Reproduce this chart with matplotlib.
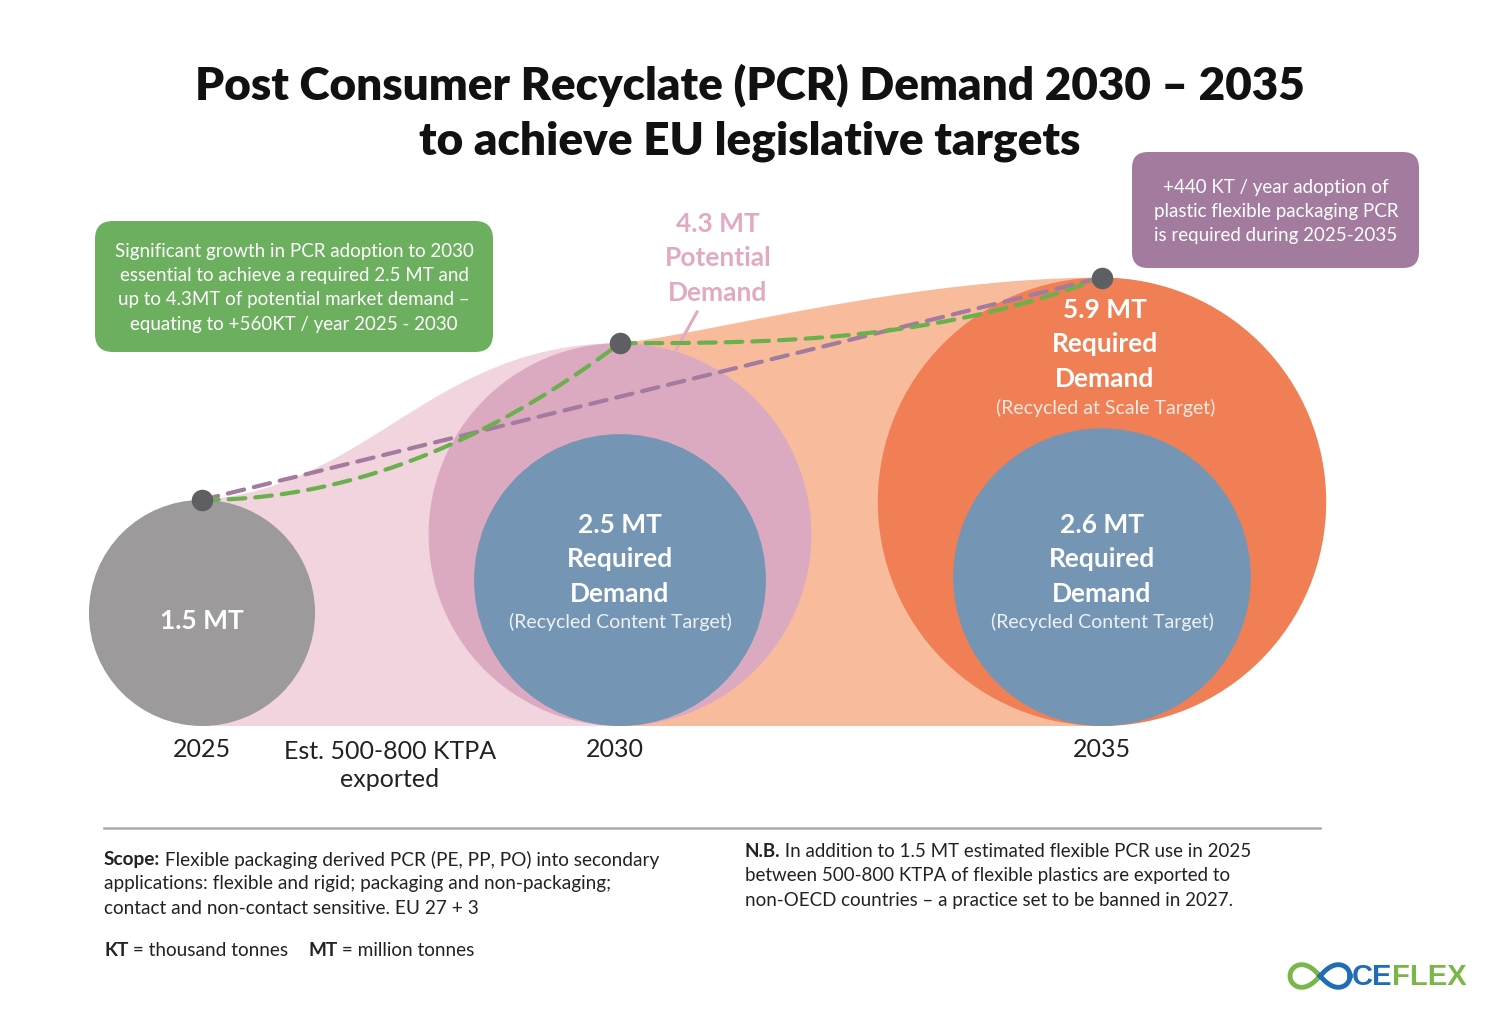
import matplotlib
matplotlib.use('Agg')
import matplotlib.pyplot as plt
from matplotlib.patches import Circle, Polygon, FancyBboxPatch
import numpy as np

plt.rcParams['font.family'] = ['Lato', 'DejaVu Sans']

# ---- data ----
years = ['2025', '2030', '2035']
outer_mt = [1.5, 4.3, 5.9]          # 2025 actual, 2030 potential, 2035 required (at scale)
inner_mt = [None, 2.5, 2.6]         # required demand (recycled content target)
outer_kind = ['', 'Potential\nDemand', 'Required\nDemand']
outer_note = ['', '', '(Recycled at Scale Target)']
inner_note = '(Recycled Content Target)'

# ---- layout ----
W, H = 1500, 1020
center_x = [202, 620, 1102]
base_y = 727
px_per_root_mt = 92.3

c_grey = '#9c9a9a'
c_pink_light = '#f1d4de'
c_pink = '#dcaac0'
c_peach = '#f8bc9d'
c_orange = '#f07f55'
c_blue = '#7495b4'
c_dot = '#5e5f63'
c_green = '#6caf5f'
c_purple = '#a37b9f'
c_text = '#222222'

fig = plt.figure(figsize=(W / 100, H / 100), dpi=100)
ax = fig.add_axes([0, 0, 1, 1])
ax.set_xlim(0, W)
ax.set_ylim(H, 0)
ax.axis('off')


def radius(v):
    return px_per_root_mt * np.sqrt(v)


def bezier(p0, p1, p2, p3, n=100):
    t = np.linspace(0, 1, n)[:, None]
    p0, p1, p2, p3 = map(np.array, (p0, p1, p2, p3))
    return ((1 - t) ** 3) * p0 + 3 * ((1 - t) ** 2) * t * p1 + 3 * (1 - t) * t ** 2 * p2 + t ** 3 * p3


def ease_in(a, b, power, n=100):
    s = np.linspace(0, 1, n)
    return np.column_stack([a[0] + (b[0] - a[0]) * s, a[1] + (b[1] - a[1]) * s ** power])


tops = [(cx, base_y - 2 * radius(v)) for cx, v in zip(center_x, outer_mt)]

# background bands between the circles
(x0, y0), (x1, y1), (x2, y2) = tops
dx = x1 - x0
band1 = bezier((x0, y0), (x0 + 0.4 * dx, y0 - 12), (x1 - 0.45 * dx, y1), (x1, y1))
band1 = np.vstack([band1, [(x1, base_y), (x0, base_y)]])
ax.add_patch(Polygon(band1, closed=True, color=c_pink_light, lw=0, zorder=1))

dx = x2 - x1
band2 = bezier((x1, y1), (x1 + 0.17 * dx, y1 - 8), (x2 - 0.4 * dx, y2), (x2, y2))
band2 = np.vstack([band2, [(x2, base_y), (x1, base_y)]])
ax.add_patch(Polygon(band2, closed=True, color=c_peach, lw=0, zorder=1))

# circles
outer_colors = [c_grey, c_pink, c_orange]
for cx, v, col in zip(center_x, outer_mt, outer_colors):
    r = radius(v)
    ax.add_patch(Circle((cx, base_y - r), r, color=col, lw=0, zorder=2))
for cx, v in zip(center_x, inner_mt):
    if v is None:
        continue
    r = radius(v)
    ax.add_patch(Circle((cx, base_y - r), r, color=c_blue, lw=0, zorder=3))

# trajectories
dash = (0, (4, 2.4))
ax.plot([x0, x2], [y0, y2], color=c_purple, lw=3, ls=dash, dash_capstyle='round', zorder=5)
path = np.vstack([ease_in(tops[0], tops[1], 2.0), ease_in(tops[1], tops[2], 2.8)[1:]])
ax.plot(path[:, 0], path[:, 1], color='#6ab04c', lw=3, ls=dash, dash_capstyle='round', zorder=5)

ax.scatter([t[0] for t in tops], [t[1] for t in tops], s=240, color=c_dot, zorder=6, lw=0)


def lines(x, y, txts, pitch, **kw):
    for i, s in enumerate(txts):
        ax.text(x, y + i * pitch, s, ha='center', va='center', zorder=7, **kw)


# circle labels
lines(center_x[0], 621, [f'{outer_mt[0]} MT'], 34, color='white', fontsize=19, fontweight='bold')

lines(718, 224, [f'{outer_mt[1]} MT'] + outer_kind[1].split('\n'), 34.5,
      color='#e2a9c2', fontsize=19, fontweight='bold')
ax.plot([697, 676], [313, 351], color='#e2a9c2', lw=2.2, zorder=4)

lines(center_x[2] + 3, 310, [f'{outer_mt[2]} MT'] + outer_kind[2].split('\n'), 34.5,
      color='white', fontsize=19, fontweight='bold')
lines(center_x[2] + 4, 408, [outer_note[2]], 24, color='#fbe9e1', fontsize=14)

for cx, v in zip(center_x[1:], inner_mt[1:]):
    lines(cx, 525, [f'{v} MT', 'Required', 'Demand'], 34.3,
          color='white', fontsize=19, fontweight='bold')
    lines(cx, 622, [inner_note], 24, color='#eef2f6', fontsize=14)

# year labels
for cx, yr in zip(center_x, years):
    ax.text(cx - (5 if yr == '2030' else 0), 750, yr, ha='center', va='center',
            fontsize=18, color=c_text)
lines(390, 752, ['Est. 500-800 KTPA', 'exported'], 28, fontsize=18, color=c_text)

# title
lines(750, 85, ['Post Consumer Recyclate (PCR) Demand 2030 \u2013 2035',
                'to achieve EU legislative targets'], 56,
      fontsize=33, fontweight='heavy', color='#111111')

# call-out boxes
ax.add_patch(FancyBboxPatch((95, 222), 398, 131, boxstyle='round,pad=0,rounding_size=18',
                            color=c_green, lw=0, zorder=4))
lines(294, 251, ['Significant growth in PCR adoption to 2030',
                 'essential to achieve a required 2.5 MT and',
                 'up to 4.3MT of potential market demand \u2013',
                 'equating to +560KT / year 2025 - 2030'], 24.4,
      color='white', fontsize=13.5)

ax.add_patch(FancyBboxPatch((1132, 153), 287, 116, boxstyle='round,pad=0,rounding_size=16',
                            color=c_purple, lw=0, zorder=4))
lines(1276, 187, ['+440 KT / year adoption of',
                  'plastic flexible packaging PCR',
                  'is required during 2025-2035'], 24.2,
      color='white', fontsize=13.5)

# footer
ax.plot([104, 1320], [829, 829], color='#aaaaaa', lw=1.8)
renderer = fig.canvas.get_renderer()


def rich(x, y, parts, size=13.7):
    for s, wt in parts:
        t = ax.text(x, y, s, ha='left', va='center', fontsize=size, fontweight=wt, color=c_text)
        x += t.get_window_extent(renderer).width


rich(104, 860, [('Scope:', 'bold'), (' Flexible packaging derived PCR (PE, PP, PO) into secondary', 'normal')])
rich(104, 884, [('applications: flexible and rigid; packaging and non-packaging;', 'normal')])
rich(104, 909, [('contact and non-contact sensitive. EU 27 + 3', 'normal')])
rich(104, 951, [('KT', 'bold'), (' = thousand tonnes    ', 'normal'), ('MT', 'bold'),
                (' = million tonnes', 'normal')])

rich(745, 852, [('N.B.', 'bold'), (' In addition to 1.5 MT estimated flexible PCR use in 2025', 'normal')], 13.5)
rich(745, 876, [('between 500-800 KTPA of flexible plastics are exported to', 'normal')], 13.5)
rich(745, 901, [('non-OECD countries \u2013 a practice set to be banned in 2027.', 'normal')], 13.5)

# logo
t = np.linspace(0, 2 * np.pi, 200)
lx = 1320 + 30 * np.cos(t) / (1 + np.sin(t) ** 2)
ly = 977 + 32 * np.sin(t) * np.cos(t) / (1 + np.sin(t) ** 2)
left = np.cos(t) < 0
ax.plot(np.where(left, lx, np.nan), np.where(left, ly, np.nan), color='#7ab648', lw=3.5)
ax.plot(np.where(~left, lx, np.nan), np.where(~left, ly, np.nan), color='#1f6db5', lw=3.5)
t1 = ax.text(1352, 977, 'CE', ha='left', va='center', fontsize=21, fontweight='bold',
             family='Liberation Sans', color='#1f6db5')
ax.text(1352 + t1.get_window_extent(renderer).width - 1, 977, 'FLEX', ha='left', va='center',
        fontsize=21, fontweight='bold', family='Liberation Sans', color='#7ab648')

fig.savefig('out.png', dpi=100, facecolor='white')
